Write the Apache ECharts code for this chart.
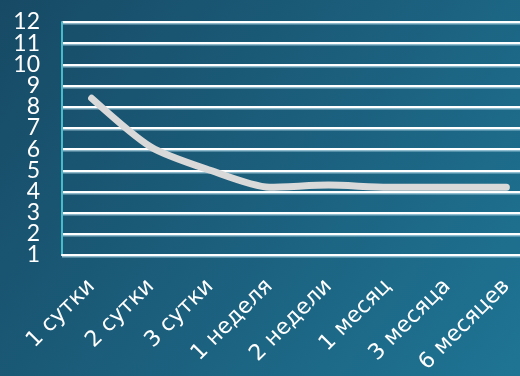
<!DOCTYPE html>
<html>
<head>
<meta charset="utf-8">
<script src="https://cdn.jsdelivr.net/npm/echarts@6/dist/echarts.min.js"></script>
<style>
  html, body { margin: 0; padding: 0; }
  #chart { width: 520px; height: 376px; }
</style>
</head>
<body>
<div id="chart"></div>
<script>
// Time points after the event
const categories = ['1 сутки', '2 сутки', '3 сутки', '1 неделя', '2 недели', '1 месяц', '3 месяца', '6 месяцев'];
// Measured values at each time point
const values = [8.4, 6.1, 5.0, 4.2, 4.3, 4.2, 4.2, 4.2];
// Value axis range and step
const yMin = 1;
const yMax = 12;
const yStep = 1;

const chart = echarts.init(document.getElementById('chart'), null, { renderer: 'canvas' });

// Tick labels sit very close together, so odd and even values are
// carried by two coincident axes to keep every label visible.
function yLabels(parity) {
  return {
    color: '#ffffff',
    fontFamily: 'Lato, "Noto Sans", sans-serif',
    fontSize: 23,
    margin: 22,
    showMinLabel: true,
    showMaxLabel: true,
    formatter: function (v) { return v % 2 === parity ? String(v) : ''; }
  };
}

chart.setOption({
  backgroundColor: new echarts.graphic.LinearGradient(0, 0, 1, 1, [
    { offset: 0, color: '#174a65' },
    { offset: 1, color: '#1f7494' }
  ]),
  animation: false,
  // plot area runs past the right edge of the canvas
  grid: { left: 62, top: 22, width: 474, height: 233, outerBoundsMode: 'none', containLabel: false },
  xAxis: {
    type: 'category',
    data: categories,
    boundaryGap: true,
    axisLine: { show: true, lineStyle: { color: '#ffffff', width: 2 } },
    axisTick: { show: false },
    axisLabel: {
      color: '#ffffff',
      fontFamily: '"DejaVu Sans", sans-serif',
      fontSize: 22,
      rotate: 45,
      margin: 28,
      interval: 0
    }
  },
  yAxis: [{
    type: 'value',
    position: 'left',
    min: yMin,
    max: yMax,
    interval: yStep,
    axisLine: { show: true, lineStyle: { color: '#45bccb', width: 2 } },
    axisTick: { show: false },
    axisLabel: yLabels(1),
    splitLine: {
      showMinLine: true,
      showMaxLine: true,
      lineStyle: {
        color: '#ffffff',
        width: 2,
        shadowColor: 'rgba(190,225,240,0.7)',
        shadowOffsetY: 1.5,
        shadowBlur: 0
      }
    }
  }, {
    type: 'value',
    position: 'left',
    offset: 0,
    min: yMin,
    max: yMax,
    interval: yStep,
    axisLine: { show: false },
    axisTick: { show: false },
    axisLabel: yLabels(0),
    splitLine: { show: false }
  }],
  series: [{
    type: 'line',
    yAxisIndex: 0,
    data: values,
    smooth: 0.25,
    symbol: 'none',
    lineStyle: { color: '#d9d9d9', width: 7, cap: 'round', join: 'round' }
  }]
});
</script>
</body>
</html>
